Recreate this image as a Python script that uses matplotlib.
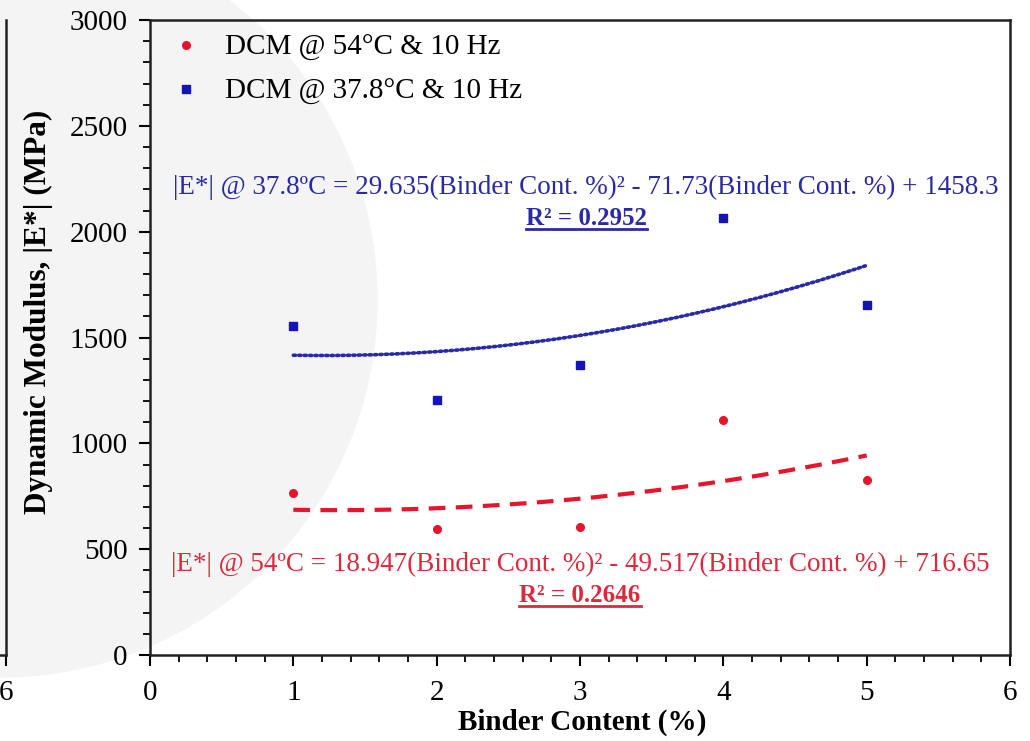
import numpy as np
import matplotlib
matplotlib.use("Agg")
import matplotlib.pyplot as plt
from matplotlib.patches import Ellipse
from matplotlib.lines import Line2D
from matplotlib.ticker import MultipleLocator

plt.rcParams['font.family'] = ['Liberation Serif', 'DejaVu Serif']

# data
binder = [1, 2, 3, 4, 5]
e_54 = [765, 595, 605, 1110, 827]
e_378 = [1554, 1205, 1370, 2064, 1653]
# trendline coefficients (from the displayed equations)
coef_54 = [18.947, -49.517, 716.65]
coef_378 = [29.635, -71.73, 1458.3]
eq_54 = "|E*| @ 54ºC = 18.947(Binder Cont. %)² - 49.517(Binder Cont. %) + 716.65"
eq_378 = "|E*| @ 37.8ºC = 29.635(Binder Cont. %)² - 71.73(Binder Cont. %) + 1458.3"
r2_54 = "R² = 0.2646"
r2_378 = "R² = 0.2952"

red = '#e8142c'
blue = '#1414b8'
red_txt = '#dc2a3c'
blue_txt = '#2a2aa8'

W, H = 1030, 741
fig = plt.figure(figsize=(W / 100, H / 100), dpi=100)

# faint watermark in background
fig.patches.append(Ellipse((0, 1 - 300 / H), 2 * 377 / W, 2 * 377 / H,
                           transform=fig.transFigure, color='#f4f4f4', zorder=-10))

# fragment of neighbouring chart on the left edge
ax0 = fig.add_axes([-0.3, 1 - 655 / H, 0.3 + 5.5 / W, 635 / H])
ax0.patch.set_alpha(0)
ax0.set_xlim(0, 6)
ax0.set_ylim(0, 3000)
ax0.set_xticks([6])
ax0.set_xticklabels(['6'], fontsize=21)
ax0.set_yticks([])
ax0.spines['top'].set_visible(False)
ax0.spines['left'].set_visible(False)
for s in ['right', 'bottom']:
    ax0.spines[s].set_linewidth(1.8)
    ax0.spines[s].set_color('#222222')
ax0.tick_params(axis='x', length=8, width=1.5, pad=10)

ax = fig.add_axes([150 / W, 1 - 655 / H, 860 / W, 635 / H])
ax.patch.set_alpha(0)

xs = np.linspace(1, 5, 200)
ax.plot(xs, np.polyval(coef_54, xs), color=red, lw=3, ls=(0, (4, 2.5)), zorder=2)
ax.plot(xs, np.polyval(coef_378, xs), color=blue_txt, lw=2.6, ls=(0, (0.6, 0.9)),
        dash_capstyle='round', zorder=2)
ax.plot(binder, e_54, 'o', color=red, ms=5.5, label='DCM @ 54°C & 10 Hz', zorder=3)
ax.plot(binder, e_378, 's', color=blue, ms=6, label='DCM @ 37.8°C & 10 Hz', zorder=3)

ax.set_xlim(0, 6)
ax.set_ylim(0, 3000)
ax.xaxis.set_major_locator(MultipleLocator(1))
ax.xaxis.set_minor_locator(MultipleLocator(0.2))
ax.yaxis.set_major_locator(MultipleLocator(500))
ax.yaxis.set_minor_locator(MultipleLocator(100))
ax.tick_params(which='major', length=8, width=1.5, labelsize=21, direction='out')
ax.tick_params(which='minor', length=5, width=1.3, direction='out')
ax.tick_params(axis='x', pad=10)
ax.tick_params(axis='y', pad=8)
for s in ax.spines.values():
    s.set_linewidth(1.8)
    s.set_color('#222222')

ax.set_xlabel('Binder Content (%)', fontsize=21, fontweight='bold')
ax.set_ylabel('Dynamic Modulus, |E*| (MPa)', fontsize=22.5, fontweight='bold')
ax.xaxis.set_label_coords(0.503, -0.084)
ax.yaxis.set_label_coords(-0.113, 0.54)

ax.legend(loc='upper left', frameon=False, fontsize=21, handletextpad=0.6,
          borderaxespad=0.0, labelspacing=0.6, handlelength=1.5,
          bbox_to_anchor=(0.003, 0.995))

t1 = ax.text(0.507, 0.737, eq_378, transform=ax.transAxes, ha='center', va='center',
             fontsize=19.5, color=blue_txt)
t2 = ax.text(0.508, 0.687, r2_378, transform=ax.transAxes, ha='center', va='center',
             fontsize=18, color=blue_txt, fontweight='bold')
t3 = ax.text(0.5, 0.143, eq_54, transform=ax.transAxes, ha='center', va='center',
             fontsize=19.5, color=red_txt)
t4 = ax.text(0.5, 0.093, r2_54, transform=ax.transAxes, ha='center', va='center',
             fontsize=18, color=red_txt, fontweight='bold')

# underline the R² labels
fig.canvas.draw()
r = fig.canvas.get_renderer()
for t, c in [(t2, blue_txt), (t4, red_txt)]:
    bb = t.get_window_extent(renderer=r)
    y = bb.y0 + 1
    fig.add_artist(Line2D([bb.x0 / W, bb.x1 / W], [y / H, y / H],
                          transform=fig.transFigure, color=c, lw=2))

fig.savefig('out.png', dpi=100)
